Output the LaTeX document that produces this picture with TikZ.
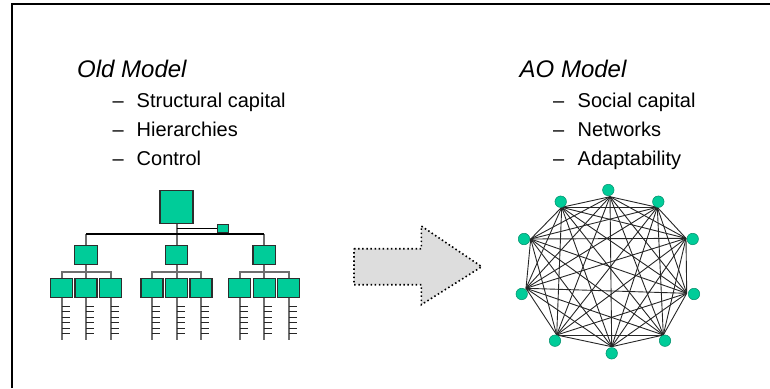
\documentclass[tikz,border=0pt]{standalone}
\usepackage{fontspec}
\setmainfont{Liberation Sans}
\definecolor{tealbox}{RGB}{0,204,153}
\definecolor{tealedge}{RGB}{0,140,105}
\definecolor{boxedge}{RGB}{45,45,45}
\definecolor{stemgray}{RGB}{110,110,110}
\definecolor{arrowfill}{RGB}{221,221,221}
\begin{document}
\begin{tikzpicture}[x=1pt,y=-1pt,
  titletext/.style={anchor=base west,inner sep=0pt,font=\fontsize{24}{28}\selectfont\itshape},
  itemtext/.style={anchor=base west,inner sep=0pt,font=\fontsize{20}{24}\selectfont},
  orgbox/.style={draw=boxedge,fill=tealbox,line width=1.2pt,inner sep=0pt,rectangle},
  bigbox/.style={orgbox,minimum width=33pt,minimum height=32.5pt},
  midbox/.style={orgbox,minimum width=22.5pt,minimum height=19.5pt},
  leafbox/.style={orgbox,minimum width=22pt,minimum height=18.5pt},
  tinybox/.style={orgbox,line width=1pt,minimum width=11.5pt,minimum height=7.5pt},
  blackline/.style={draw=black,line width=1.3pt},
  grayline/.style={draw=stemgray,line width=2pt},
  tickline/.style={draw=black!85,line width=1.1pt},
  netline/.style={draw=black!85,line width=0.9pt},
  netdot/.style={circle,fill=tealbox,draw=tealedge,line width=0.5pt,minimum size=11.5pt,inner sep=0pt},
  bigarrow/.style={fill=arrowfill,draw=black,line width=1.6pt,dash pattern=on 1.5pt off 2.6pt}
]
\useasboundingbox (0,0) rectangle (770,388);
% frame
\draw[line width=1.7pt] (12,388) -- (12,4) -- (770,4);

% texts left
\node[titletext] (oldtitle) at (77,77) {Old Model};
\node[itemtext] (od1) at (112.5,107) {–};
\node[itemtext] (ot1) at (136.5,107) {Structural capital};
\node[itemtext] (od2) at (112.5,136) {–};
\node[itemtext] (ot2) at (136.5,136) {Hierarchies};
\node[itemtext] (od3) at (112.5,165) {–};
\node[itemtext] (ot3) at (136.5,165) {Control};
% texts right
\node[titletext] (aotitle) at (519.5,77) {AO Model};
\node[itemtext] (ad1) at (553,107) {–};
\node[itemtext] (at1) at (577.5,107) {Social capital};
\node[itemtext] (ad2) at (553,136) {–};
\node[itemtext] (at2) at (577.5,136) {Networks};
\node[itemtext] (ad3) at (553,165) {–};
\node[itemtext] (at3) at (577.5,165) {Adaptability};

% org chart
\coordinate (hbar) at (176.5,234);
\draw[grayline] (176.5,223) -- (176.5,245);
\node[bigbox] (top) at (176.5,207) {};
\node[tinybox] (tiny) at (223,228.5) {};
\draw[blackline] (top.south |- tiny.west) -- (tiny.west);
\foreach \g/\cx in {1/86,2/176.5,3/264.3} {
  \node[midbox] (mid\g) at (\cx,255) {};
  \node[leafbox] (leaf\g a) at (\cx-24.5,288) {};
  \node[leafbox] (leaf\g b) at (\cx,288) {};
  \node[leafbox] (leaf\g c) at (\cx+24.5,288) {};
  \coordinate (bar\g) at (\cx,272);
  \draw[grayline] (mid\g.south) -- (leaf\g b.north);
  \draw[grayline] (leaf\g a.north) -- (leaf\g a.north |- bar\g) -- (leaf\g c.north |- bar\g) -- (leaf\g c.north);
  \foreach \s in {a,b,c} {
    \draw[grayline] (leaf\g\s.south) -- ++(0,42);
    \foreach \k in {0,...,5} {
      \draw[tickline] ([yshift=-8.5pt-5.5pt*\k]leaf\g\s.south) -- ++(8,0);
    }
  }
}
\draw[grayline] (mid1.north |- hbar) -- (mid1.north);
\draw[grayline] (mid3.north |- hbar) -- (mid3.north);
\draw[blackline] (mid1.north |- hbar) -- (mid3.north |- hbar);
\foreach \g in {1,2,3} {\node[midbox] at (mid\g) {};}
\node[bigbox] at (top) {};

% arrow
\draw[bigarrow] (354,248.7) -- (421.3,248.7) -- (421.3,226) -- (481.7,266.7)
  -- (421.3,304.7) -- (421.3,284.7) -- (354,284.7) -- cycle;

% network
\coordinate (v1) at (610,196.7);
\coordinate (v2) at (657.3,207.3);
\coordinate (v3) at (686,238.3);
\coordinate (v4) at (686.7,293.3);
\coordinate (v5) at (663.3,335);
\coordinate (v6) at (611.7,346.7);
\coordinate (v7) at (556.7,335);
\coordinate (v8) at (526,288.3);
\coordinate (v9) at (530.7,239);
\coordinate (v10) at (561.7,207.3);
\foreach \i [evaluate=\i as \n using int(\i+1)] in {1,...,9} {
  \foreach \j in {\n,...,10} {
    \draw[netline] (v\i) -- (v\j);
  }
}
\node[netdot] (d1) at (608.3,190) {};
\node[netdot] (d2) at (658.3,201.7) {};
\node[netdot] (d3) at (692.7,239) {};
\node[netdot] (d4) at (694,294) {};
\node[netdot] (d5) at (665,340.7) {};
\node[netdot] (d6) at (611.7,353.3) {};
\node[netdot] (d7) at (555,340.7) {};
\node[netdot] (d8) at (521.7,294) {};
\node[netdot] (d9) at (524,239) {};
\node[netdot] (d10) at (560.7,201.7) {};
\end{tikzpicture}
\end{document}
